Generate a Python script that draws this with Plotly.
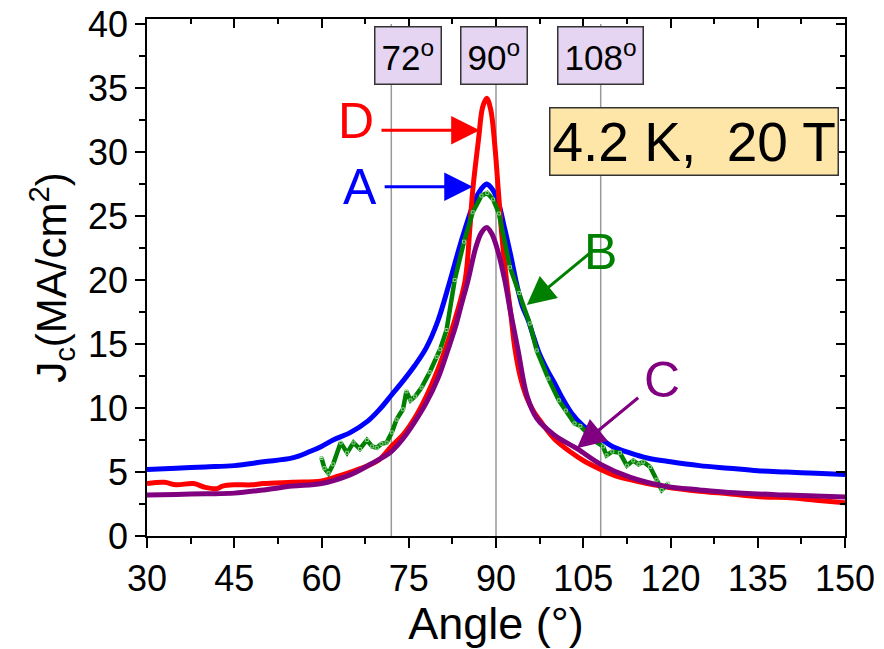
import plotly.graph_objects as go

# ---- data ----
A_x = [30,35,40,45,50,55,58,60,62,65,68,70,72,74,76,78,80,82,84,86,87,88,88.4,89.5,90.5,91.5,92.5,93.5,94.5,95.5,96.5,97.5,99,100,101.5,103,105,107,108,110,113,116,120,125,130,135,140,145,150]
A_y = [5.2,5.3,5.4,5.5,5.8,6.1,6.6,7.0,7.5,8.1,9.0,9.9,11.0,12.1,13.3,14.7,16.8,19.8,23.0,25.8,26.8,27.4,27.5,27.0,25.9,24.0,22.0,19.8,18.0,16.9,15.5,14.2,12.8,12.0,10.7,9.6,8.6,7.9,7.6,7.0,6.5,6.1,5.8,5.5,5.3,5.1,5.0,4.9,4.8]

B_x = [60,60.5,61.2,62,63.3,64.4,65.5,66.6,67.8,68.7,69.5,70.3,71.2,72.1,72.9,74.0,74.6,75.3,76.1,77.2,78.6,79.8,80.4,81.5,82.9,84.5,86,87.5,88.5,89.5,90.5,92.4,94,95.8,97,99,100.8,102,103.5,104.5,106,107,108.4,109,110,111.3,112.5,113.6,114.5,115.3,116.5,117.6,118.5,119.6]
B_y = [6.1,5.3,4.9,5.6,7.3,6.5,7.3,6.8,7.5,7.0,6.9,7.2,7.3,8.1,9.1,9.9,11.3,10.6,10.9,11.6,12.8,14.0,14.6,16.1,20.0,23.0,25.3,26.6,26.8,26.3,25.2,21.0,19.0,16.6,14.5,12.3,10.6,9.8,8.8,8.6,7.8,7.4,7.0,6.3,6.6,6.5,5.5,5.9,5.6,5.8,5.4,4.4,3.6,4.1]

C_x = [30,35,40,45,50,55,60,65,68,70,72,74,76,78,80,81.7,83,84,85.2,86.5,87.5,88.4,89.3,90.3,91.5,92.5,93.8,95.3,97,100,104,108,113,119,125,130,140,150]
C_y = [3.2,3.25,3.3,3.35,3.6,3.9,4.1,4.8,5.5,6.0,6.6,7.6,8.9,10.4,12.3,14.5,16.3,18.0,20.0,22.5,23.7,24.1,23.6,22.3,20.0,17.5,14.5,11.0,9.2,7.9,6.8,5.6,4.6,3.9,3.6,3.4,3.2,3.05]

D_x = [30,33,35,38,40,42,43,45,48,50,55,60,63,65,68,70,72,74,76,78,80,81.2,83,84.7,85.5,86,87,87.7,88.4,89.1,89.8,90.4,91,91.8,92.5,93.3,94.2,95.3,96.5,97.6,100,103,105,108,110,113,116,119,125,130,136,140,145,150]
D_y = [4.1,4.2,4.0,4.1,3.8,3.7,3.9,4.0,4.0,4.1,4.2,4.3,4.7,5.0,5.5,6.0,7.0,7.9,9.2,10.9,13.0,14.5,17.0,20.0,24.0,27.0,31.0,33.5,34.2,33.3,30.5,27.0,23.5,20.0,17.5,14.5,12.4,10.8,9.7,9.0,7.6,6.5,5.9,5.2,4.8,4.4,4.1,3.85,3.5,3.3,3.05,3.0,2.8,2.6]

ref_angles = [72, 90, 108]
ref_labels = ["72<sup>o</sup>", "90<sup>o</sup>", "108<sup>o</sup>"]
ref_label_x = [74.9, 89.7, 108.0]

x_ticks = [30, 45, 60, 75, 90, 105, 120, 135, 150]
y_ticks = [0, 5, 10, 15, 20, 25, 30, 35, 40]

BLUE, RED, GREEN, PURPLE = "#0000FF", "#FF0000", "#008000", "#800080"
FONT = "Liberation Sans, Arial, sans-serif"

fig = go.Figure()
fig.add_trace(go.Scatter(x=A_x, y=A_y, mode="lines", line=dict(color=BLUE, width=5, shape="spline"), showlegend=False))
fig.add_trace(go.Scatter(x=D_x, y=D_y, mode="lines", line=dict(color=RED, width=5, shape="spline"), showlegend=False))
fig.add_trace(go.Scatter(x=B_x, y=B_y, mode="lines+markers", line=dict(color=GREEN, width=4.5),
                         marker=dict(symbol="square-open", size=3, color="#8fcf8f", line=dict(width=1)), showlegend=False))
# C drawn on the overlaying (top/right) axes, which share identical ranges
fig.add_trace(go.Scatter(x=C_x, y=C_y, mode="lines", line=dict(color=PURPLE, width=5, shape="spline"),
                         xaxis="x2", yaxis="y2", showlegend=False))

# vertical reference lines
for a in ref_angles:
    fig.add_shape(type="line", x0=a, x1=a, y0=0, y1=40, xref="x", yref="y",
                  line=dict(color="#999999", width=1.5), layer="below")

# angle label boxes
for lx, lab in zip(ref_label_x, ref_labels):
    fig.add_annotation(x=lx, y=37.55, xref="x", yref="y", text=lab, showarrow=False,
                       font=dict(family=FONT, size=35, color="black"),
                       bgcolor="#E5D4F2", bordercolor="#333333", borderwidth=1.5, borderpad=6)

# condition box
fig.add_annotation(x=124.1, y=30.8, xref="x", yref="y", text="4.2 K,  20 T", showarrow=False,
                   font=dict(family=FONT, size=55, color="black"),
                   bgcolor="#FDE6A8", bordercolor="#333333", borderwidth=1.5, borderpad=2)

# curve labels
labels = [("D", 66.0, 32.4, RED), ("A", 66.6, 27.3, BLUE), ("B", 107.9, 22.2, GREEN), ("C", 118.5, 12.2, PURPLE)]
for t, lx, ly, c in labels:
    fig.add_annotation(x=lx, y=ly, xref="x", yref="y", text=t, showarrow=False,
                       font=dict(family=FONT, size=50, color=c))

# arrows (head, tail)
arrows = [(87.2, 31.7, 70.05, 31.7, RED), (86.0, 27.3, 70.6, 27.3, BLUE),
          (95.3, 18.05, 106.4, 22.2, GREEN), (103.9, 6.86, 114.7, 10.9, PURPLE)]
for hx, hy, tx, ty, c in arrows:
    fig.add_annotation(x=hx, y=hy, ax=tx, ay=ty, xref="x", yref="y", axref="x", ayref="y",
                       text="", showarrow=True, arrowhead=2, arrowsize=1.9, arrowwidth=3, arrowcolor=c)

XR = [30, 150]
YR = [0, 40.4]
fig.update_layout(
    width=884, height=649,
    margin=dict(l=147, r=39, t=19, b=113, autoexpand=False),
    plot_bgcolor="white", paper_bgcolor="white",
    font=dict(family=FONT, color="black"),
    xaxis=dict(range=XR, tickvals=x_ticks, ticks="outside", ticklen=10, tickwidth=1.5, tickcolor="black",
               showline=True, linecolor="black", linewidth=1.5, showgrid=False, zeroline=False, automargin=False,
               tickfont=dict(size=36), title=dict(text="Angle (°)", font=dict(size=45), standoff=6),
               minor=dict(tick0=30, dtick=7.5, ticks="outside", ticklen=6, tickcolor="black", tickwidth=1.5)),
    yaxis=dict(range=YR, tickvals=y_ticks, ticks="outside", ticklen=10, tickwidth=1.5, tickcolor="black",
               showline=True, linecolor="black", linewidth=1.5, showgrid=False, zeroline=False, automargin=False,
               tickfont=dict(size=36), title=dict(text="J<sub>c</sub>(MA/cm<sup>2</sup>)", font=dict(size=42), standoff=8),
               minor=dict(tick0=0, dtick=2.5, ticks="outside", ticklen=6, tickcolor="black", tickwidth=1.5)),
    xaxis2=dict(range=XR, overlaying="x", side="top", anchor="y", tickvals=x_ticks, ticks="inside", ticklen=9,
                tickwidth=1.5, tickcolor="black", showticklabels=False, showline=True, linecolor="black",
                linewidth=1.5, showgrid=False, zeroline=False, automargin=False,
                minor=dict(tick0=30, dtick=7.5, ticks="inside", ticklen=5, tickcolor="black", tickwidth=1.5)),
    yaxis2=dict(range=YR, overlaying="y", side="right", anchor="x", tickvals=y_ticks, ticks="inside", ticklen=9,
                tickwidth=1.5, tickcolor="black", showticklabels=False, showline=True, linecolor="black",
                linewidth=1.5, showgrid=False, zeroline=False, automargin=False,
                minor=dict(tick0=0, dtick=2.5, ticks="inside", ticklen=5, tickcolor="black", tickwidth=1.5)),
)

fig.write_html("out.html")
